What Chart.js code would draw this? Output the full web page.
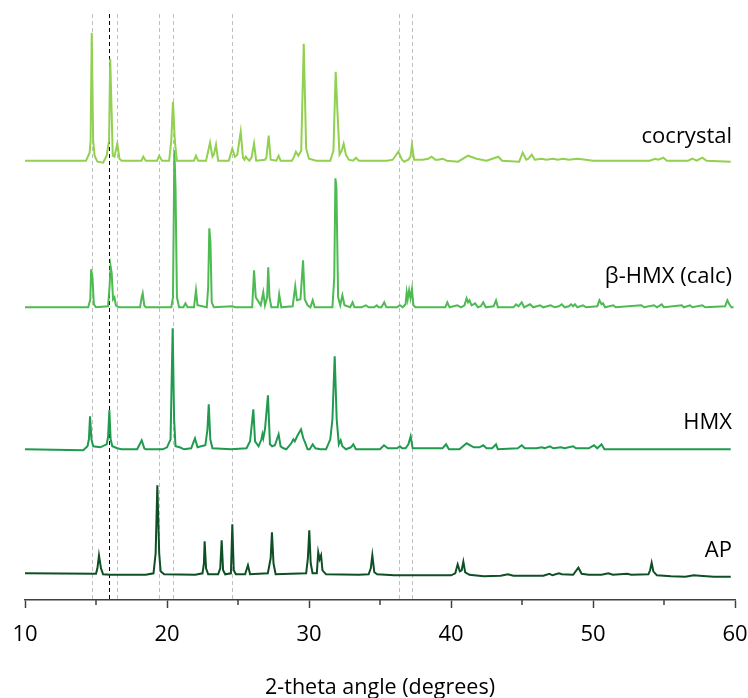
<!DOCTYPE html>
<html>
<head>
<meta charset="utf-8">
<script src="https://cdn.jsdelivr.net/npm/chart.js@4.4.1/dist/chart.umd.min.js"></script>
<style>
body{margin:0;background:#fff;}
#wrap{width:748px;height:698px;}
</style>
</head>
<body>
<div id="wrap"><canvas id="xrd" width="748" height="698"></canvas></div>
<script>
// samples, top to bottom
let names = ["cocrystal", "β-HMX (calc)", "HMX", "AP"];
let colors = ["#92D050", "#4DBA52", "#1F9A4E", "#0F4F25"];
// vertical stacking of each pattern (arbitrary units)
let offsets = [439.3, 292.7, 150.7, 26.7];
let labelLevels = [463, 323, 177, 49];

// reference lines (2-theta)
let greyLines = [14.7, 16.5, 19.45, 20.45, 24.6, 36.35, 37.25];
let blackLines = [15.95];
let minorTicks = [15, 25, 35, 45, 55];

// [2-theta, intensity above baseline]
let cocrystal = [[10,0],[14.3,0],[14.55,8],[14.62,20],[14.7,128],[14.8,20],[14.9,5],[15.1,-1],[15.5,-2],[15.75,5],[15.92,20],[16.0,102],[16.08,60],[16.18,5],[16.3,4],[16.5,17],[16.65,2],[16.8,0],[18.2,0],[18.33,4],[18.5,0],[19.3,0],[19.45,5],[19.65,0],[20.15,0],[20.3,20],[20.42,59],[20.55,20],[20.7,0],[21.9,0],[22.04,5],[22.2,0],[22.75,0],[23.03,18],[23.2,4],[23.3,6],[23.45,16],[23.6,0],[24.35,0],[24.6,12],[24.78,4],[24.95,6],[25.19,29],[25.35,3],[25.45,1],[25.55,4],[25.65,2],[25.8,0],[25.95,3],[26.13,17],[26.28,0],[26.9,1],[27.0,3],[27.16,25],[27.3,1],[27.7,0],[27.86,5],[28.0,0],[28.8,0],[28.95,4],[29.08,9],[29.25,5],[29.45,10],[29.63,117],[29.8,12],[30.0,2],[30.5,0],[31.5,0],[31.72,10],[31.88,89],[32.0,50],[32.15,6],[32.3,10],[32.44,17],[32.6,6],[32.8,1],[33.1,0],[33.31,3],[33.5,0],[35.5,0],[35.9,1],[36.29,9],[36.55,1],[36.7,-1],[37.0,1],[37.15,4],[37.25,16],[37.4,1],[38.0,1],[38.4,2],[38.64,4],[38.9,1],[39.1,1],[39.42,2],[39.7,0],[40.5,-1],[41.2,5],[41.8,2],[42.5,0],[43.33,4],[43.6,0],[44.8,-1],[45.05,8],[45.3,1],[45.45,2],[45.69,6],[45.9,1],[46.39,2],[46.7,1],[47.2,2],[47.5,1],[47.9,2],[48.3,1],[48.9,2],[49.5,1],[50.0,0],[54.0,0],[54.37,2],[54.6,1],[54.95,3],[55.2,0],[56.7,0],[57.0,2],[57.3,0],[57.7,3],[58.0,0],[59.7,-1]];

let betaHmx = [[10,0],[14.45,0],[14.6,8],[14.66,38],[14.75,30],[14.85,3],[15.0,0],[15.85,1],[15.95,20],[16.03,41],[16.1,35],[16.2,8],[16.3,10],[16.4,2],[16.6,0],[18.1,0],[18.22,10],[18.29,14],[18.4,2],[18.5,0],[20.3,0],[20.42,10],[20.52,157],[20.6,120],[20.7,10],[20.85,0],[21.15,0],[21.3,4],[21.45,0],[21.9,0],[22.04,17],[22.15,2],[22.8,0],[22.9,20],[22.98,79],[23.06,65],[23.15,5],[23.3,0],[24.6,1],[24.8,0],[26.0,0],[26.13,37],[26.25,10],[26.6,2],[26.78,15],[26.9,2],[27.05,10],[27.13,40],[27.22,10],[27.35,0],[27.8,0],[27.9,13],[28.05,0],[28.85,1],[29.03,21],[29.15,7],[29.4,8],[29.58,47],[29.7,8],[29.9,2],[30.1,0],[30.26,7],[30.4,0],[31.65,0],[31.78,30],[31.86,129],[31.93,120],[32.05,10],[32.2,2],[32.35,12],[32.5,2],[32.9,0],[33.07,5],[33.2,0],[33.7,0],[34.0,2],[34.2,0],[34.6,0],[34.77,2],[34.9,0],[35.1,0],[35.3,5],[35.45,0],[36.2,0],[36.4,2],[36.6,0],[36.8,3],[36.88,15],[36.95,8],[37.05,17],[37.15,9],[37.25,18],[37.35,2],[37.5,0],[39.6,0],[39.74,5],[39.9,0],[40.45,2],[40.7,0],[40.95,2],[41.1,9],[41.2,5],[41.3,7],[41.45,2],[41.7,4],[41.9,0],[42.1,1],[42.27,5],[42.45,0],[43.0,1],[43.17,7],[43.3,0],[44.4,0],[44.58,3],[44.75,1],[44.98,5],[45.15,0],[45.56,3],[45.8,0],[46.27,2],[46.5,0],[47.02,2],[47.3,0],[47.6,1],[47.8,3],[48.0,0],[48.3,1],[48.45,3],[48.6,1],[48.73,3],[48.9,0],[49.3,2],[49.5,0],[50.3,1],[50.45,7],[50.6,3],[50.7,4],[50.85,0],[51.43,2],[51.6,0],[53.4,2],[53.6,0],[54.3,2],[54.5,0],[54.84,3],[55.0,0],[56.25,2],[56.4,0],[56.83,2],[57.0,0],[57.7,2],[57.9,0],[59.3,1],[59.46,7],[59.6,3],[59.75,0],[59.9,0]];

let hmx = [[10,0],[14.1,-1],[14.4,3],[14.5,10],[14.58,33],[14.68,10],[14.8,3],[15.3,2],[15.75,5],[15.85,12],[15.94,39],[16.03,10],[16.15,3],[16.5,1],[16.8,0],[17.9,0],[18.22,9],[18.4,1],[18.5,0],[19.7,0],[20.0,2],[20.25,10],[20.4,121],[20.5,30],[20.6,3],[20.9,2],[21.2,0],[21.7,1],[21.97,11],[22.15,2],[22.4,3],[22.7,4],[22.85,20],[22.94,45],[23.05,10],[23.2,1],[24.5,0],[25.6,1],[25.85,8],[26.08,40],[26.2,8],[26.45,3],[26.65,10],[26.72,15],[26.78,11],[26.9,20],[27.11,54],[27.25,5],[27.4,3],[27.6,4],[27.86,15],[28.0,3],[28.2,1],[28.4,0],[28.75,6],[28.9,10],[29.0,8],[29.2,14],[29.44,20],[29.6,11],[29.72,7],[29.9,0],[30.05,0],[30.26,5],[30.45,1],[30.8,0],[31.2,0],[31.5,10],[31.65,30],[31.81,93],[31.95,30],[32.1,5],[32.23,9],[32.35,3],[32.6,0],[32.95,2],[33.12,5],[33.3,0],[35.0,0],[35.28,4],[35.55,1],[36.2,1],[36.4,3],[36.55,1],[36.8,1],[37.0,5],[37.16,13],[37.3,1],[39.4,1],[39.65,5],[39.85,0],[40.6,0],[41.1,6],[41.6,2],[42.0,2],[42.27,4],[42.5,1],[42.9,1],[43.17,5],[43.3,0],[44.7,1],[44.98,4],[45.2,1],[46.0,1],[46.4,2],[46.6,1],[46.97,3],[47.2,1],[47.75,2],[48.0,1],[48.6,3],[48.8,1],[49.7,1],[50.07,4],[50.3,1],[50.6,5],[50.8,0],[59.7,0]];

let ap = [[10,0],[15.0,-0.5],[15.1,5],[15.21,18],[15.35,5],[15.5,-1],[16.0,-1.5],[18.5,-1.5],[19.05,0],[19.2,20],[19.32,88],[19.45,20],[19.55,2],[19.8,-1],[22.0,-1.5],[22.5,0],[22.6,10],[22.65,32],[22.75,5],[22.9,-1],[23.6,-1],[23.75,5],[23.85,33],[23.95,3],[24.1,-1],[24.5,0],[24.6,49],[24.7,3],[24.85,-1],[25.5,-1],[25.7,8],[25.85,-1],[27.1,0],[27.3,15],[27.39,41],[27.5,10],[27.65,-1],[29.8,0],[29.92,15],[30.02,43],[30.12,10],[30.25,0],[30.55,0],[30.65,21],[30.75,14],[30.85,18],[30.95,3],[31.2,-1],[33.5,-1.5],[34.2,-1],[34.35,5],[34.46,18],[34.6,1],[34.8,-1],[36.0,-2],[40.0,-2],[40.3,0],[40.47,9],[40.62,2],[40.75,3],[40.87,11.6],[41.0,1],[41.3,-1.5],[42.3,-3],[43.5,-2.5],[44.0,-1],[44.4,-2.5],[46.5,-2.5],[46.93,-0.5],[47.15,-2],[47.6,0],[47.8,-1],[48.6,-1.5],[48.97,5.6],[49.2,-0.5],[49.7,-1.5],[50.6,-1.5],[51.08,0],[51.4,-1.5],[52.4,-0.5],[52.7,-1.5],[53.9,-1],[54.02,3],[54.13,10.6],[54.25,2],[54.5,-2],[55.5,-3],[56.5,-3.5],[57.1,-2],[57.5,-2.5],[58.5,-3.5],[59.7,-3.5]];

let patterns = [cocrystal, betaHmx, hmx, ap];

let datasets = patterns.map((pts, i) => ({
	label: names[i],
	data: pts.map(p => ({x: p[0], y: p[1] + offsets[i]})),
	borderColor: colors[i],
	backgroundColor: colors[i],
	borderWidth: 2,
	pointRadius: 0,
	tension: 0,
	fill: false
}));

const FONT = "'Open Sans', 'DejaVu Sans', sans-serif";

const overlay = {
	id: 'overlay',
	beforeDatasetsDraw(chart){
		let ctx = chart.ctx, area = chart.chartArea, x = chart.scales.x;
		ctx.save();
		ctx.lineWidth = 1;
		ctx.setLineDash([4, 3]);
		ctx.strokeStyle = '#c0c0c0';
		greyLines.forEach(v => {
			let px = Math.round(x.getPixelForValue(v)) + 0.5;
			ctx.beginPath(); ctx.moveTo(px, area.top); ctx.lineTo(px, area.bottom); ctx.stroke();
		});
		ctx.strokeStyle = '#000';
		blackLines.forEach(v => {
			let px = Math.round(x.getPixelForValue(v)) + 0.5;
			ctx.beginPath(); ctx.moveTo(px, area.top); ctx.lineTo(px, area.bottom); ctx.stroke();
		});
		ctx.restore();
	},
	afterDraw(chart){
		let ctx = chart.ctx, area = chart.chartArea, x = chart.scales.x, y = chart.scales.y;
		ctx.save();
		// minor ticks
		ctx.strokeStyle = '#404040';
		ctx.lineWidth = 1.5;
		minorTicks.forEach(v => {
			let px = x.getPixelForValue(v);
			ctx.beginPath(); ctx.moveTo(px, area.bottom); ctx.lineTo(px, area.bottom + 5); ctx.stroke();
		});
		// sample names
		ctx.fillStyle = '#000';
		ctx.font = "22px " + FONT;
		ctx.textAlign = 'right';
		ctx.textBaseline = 'middle';
		names.forEach((n, i) => {
			ctx.fillText(n, area.right - 3, y.getPixelForValue(labelLevels[i]));
		});
		ctx.restore();
	}
};

new Chart(document.getElementById('xrd').getContext('2d'), {
	type: 'line',
	data: { datasets: datasets },
	plugins: [overlay],
	options: {
		responsive: false,
		animation: false,
		layout: { padding: { top: 14, left: 25, right: 13, bottom: 0 } },
		plugins: { legend: { display: false }, tooltip: { enabled: false } },
		scales: {
			x: {
				type: 'linear',
				min: 10, max: 60,
				afterFit(scale){
					scale.height = 98;
					scale.paddingLeft = 0;
					scale.paddingRight = 0;
				},
				border: { display: true, color: '#404040', width: 1.5 },
				grid: { display: true, drawOnChartArea: false, drawTicks: true, tickLength: 8, tickColor: '#404040', tickWidth: 1.5 },
				ticks: { stepSize: 10, maxRotation: 0, color: '#000', padding: 14, font: { family: FONT, size: 22 } },
				title: { display: true, text: '2-theta angle (degrees)', color: '#000', padding: { top: 0, bottom: -3 }, font: { family: FONT, size: 21.5 } }
			},
			y: {
				display: false,
				min: 0, max: 586
			}
		}
	}
});
</script>
</body>
</html>
